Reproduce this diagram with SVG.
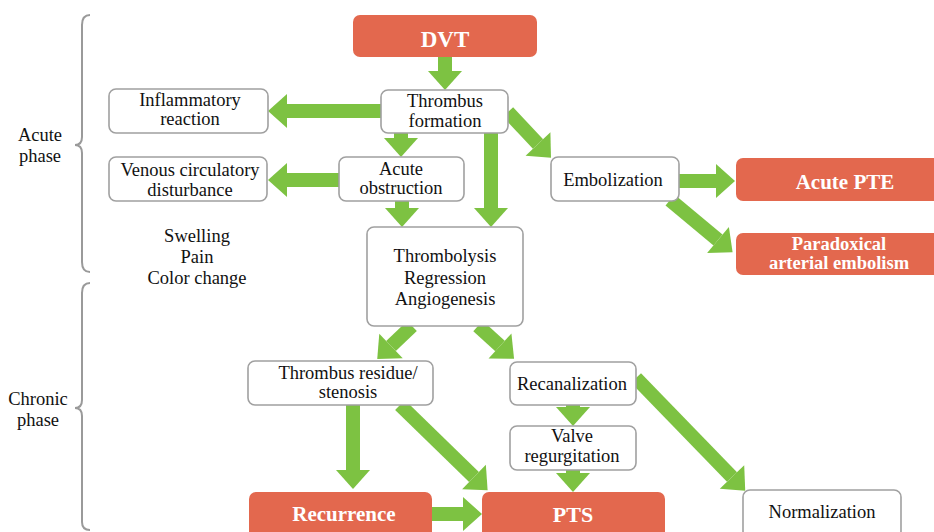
<svg xmlns="http://www.w3.org/2000/svg" width="934" height="532" viewBox="0 0 934 532" font-family="Liberation Serif, serif">
<defs>
<marker id="ah" markerUnits="userSpaceOnUse" orient="auto" refX="0" refY="0" markerWidth="20" markerHeight="36" viewBox="0 -18 20 36" overflow="visible">
<path d="M0,-17 L19,0 L0,17 Z" fill="#7DC242"/>
</marker>
<style>
.box{fill:#fff;stroke:#a0a0a0;stroke-width:1.6}
.hot{fill:#E3684E;stroke:none}
.t{font-size:18.5px;fill:#111;text-anchor:middle}
.w{font-weight:bold;fill:#fff;text-anchor:middle}
.c line{stroke:#7DC242;stroke-width:14;marker-end:url(#ah)}
.br{fill:none;stroke:#9a9a9a;stroke-width:2}
</style>
</defs>
<rect width="934" height="532" fill="#fff"/>
<g id="brackets" font-family="Liberation Serif">
<path class="br" d="M90,15 Q82,15 82,25 L82,137 Q82,145 75,145 Q82,145 82,153 L82,262 Q82,272 90,272"/>
<path class="br" d="M90,283 Q82,283 82,293 L82,400 Q82,408 75,408 Q82,408 82,416 L82,522 Q82,530 90,530"/>
<text class="t" x="40" y="141">Acute</text><text class="t" x="40" y="162">phase</text>
<text class="t" x="38" y="405">Chronic</text><text class="t" x="38" y="426">phase</text>
</g>
<g class="c" id="connectors">
<line x1="445" y1="57" x2="445" y2="71"/>
<line x1="381" y1="111" x2="287" y2="111"/>
<line x1="401" y1="133" x2="401" y2="138"/>
<line x1="491" y1="133" x2="491" y2="208"/>
<line x1="508" y1="112" x2="538" y2="144"/>
<line x1="339" y1="180" x2="287" y2="180"/>
<line x1="402" y1="201" x2="402" y2="208"/>
<line x1="679" y1="181" x2="716" y2="181"/>
<line x1="670" y1="200" x2="718" y2="240"/>
<line x1="412" y1="326" x2="391" y2="346"/>
<line x1="478" y1="326" x2="500" y2="346"/>
<line x1="573" y1="405" x2="573" y2="407"/>
<line x1="573" y1="470" x2="573" y2="473"/>
<line x1="636" y1="378" x2="732" y2="477"/>
<line x1="353" y1="405" x2="353" y2="470"/>
<line x1="400" y1="405" x2="474" y2="477"/>
<line x1="432" y1="514" x2="463" y2="514"/>
</g>
<g id="dvt" font-family="Liberation Serif"><rect class="hot" x="353" y="15" width="184" height="42" rx="7"/><text class="w" x="445" y="47" font-size="23">DVT</text></g>
<g id="thrombus-formation" font-family="Liberation Serif"><rect class="box" x="381" y="90" width="127" height="43" rx="7"/><text class="t" x="445" y="107">Thrombus</text><text class="t" x="445" y="127">formation</text></g>
<g id="inflammatory" font-family="Liberation Serif"><rect class="box" x="109" y="89" width="159" height="44" rx="7"/><text class="t" x="190" y="106">Inflammatory</text><text class="t" x="190" y="125">reaction</text></g>
<g id="venous" font-family="Liberation Serif"><rect class="box" x="109" y="157" width="158" height="44" rx="7"/><text class="t" x="190" y="176">Venous circulatory</text><text class="t" x="190" y="196">disturbance</text></g>
<g id="acute-obstruction" font-family="Liberation Serif"><rect class="box" x="339" y="157" width="125" height="44" rx="7"/><text class="t" x="401" y="175">Acute</text><text class="t" x="401" y="194">obstruction</text></g>
<g id="symptoms" font-family="Liberation Serif"><text class="t" x="197" y="242">Swelling</text><text class="t" x="197" y="263">Pain</text><text class="t" x="197" y="284">Color change</text></g>
<g id="thrombolysis" font-family="Liberation Serif"><rect class="box" x="367" y="227" width="156" height="99" rx="7"/><text class="t" x="445" y="262">Thrombolysis</text><text class="t" x="445" y="284">Regression</text><text class="t" x="445" y="305">Angiogenesis</text></g>
<g id="embolization" font-family="Liberation Serif"><rect class="box" x="551" y="157" width="128" height="44" rx="7"/><text class="t" x="613" y="186">Embolization</text></g>
<g id="acute-pte" font-family="Liberation Serif"><rect class="hot" x="736" y="158" width="205" height="43" rx="7"/><text class="w" x="845" y="189" font-size="21">Acute PTE</text></g>
<g id="paradoxical" font-family="Liberation Serif"><rect class="hot" x="736" y="233" width="205" height="42" rx="7"/><text class="w" x="839" y="250" font-size="18.5">Paradoxical</text><text class="w" x="839" y="269" font-size="18.5">arterial embolism</text></g>
<g id="residue" font-family="Liberation Serif"><rect class="box" x="248" y="361" width="185" height="44" rx="7"/><text class="t" x="348" y="379">Thrombus residue/</text><text class="t" x="348" y="398">stenosis</text></g>
<g id="recanalization" font-family="Liberation Serif"><rect class="box" x="510" y="362" width="126" height="43" rx="7"/><text class="t" x="572" y="390">Recanalization</text></g>
<g id="valve" font-family="Liberation Serif"><rect class="box" x="510" y="426" width="126" height="44" rx="7"/><text class="t" x="572" y="442">Valve</text><text class="t" x="572" y="462">regurgitation</text></g>
<g id="recurrence" font-family="Liberation Serif"><rect class="hot" x="249" y="492" width="183" height="46" rx="7"/><text class="w" x="344" y="521" font-size="21">Recurrence</text></g>
<g id="pts" font-family="Liberation Serif"><rect class="hot" x="482" y="492" width="183" height="46" rx="7"/><text class="w" x="573" y="522" font-size="22">PTS</text></g>
<g id="normalization" font-family="Liberation Serif"><rect class="box" x="743" y="490" width="158" height="48" rx="7"/><text class="t" x="822" y="518">Normalization</text></g>
</svg>
